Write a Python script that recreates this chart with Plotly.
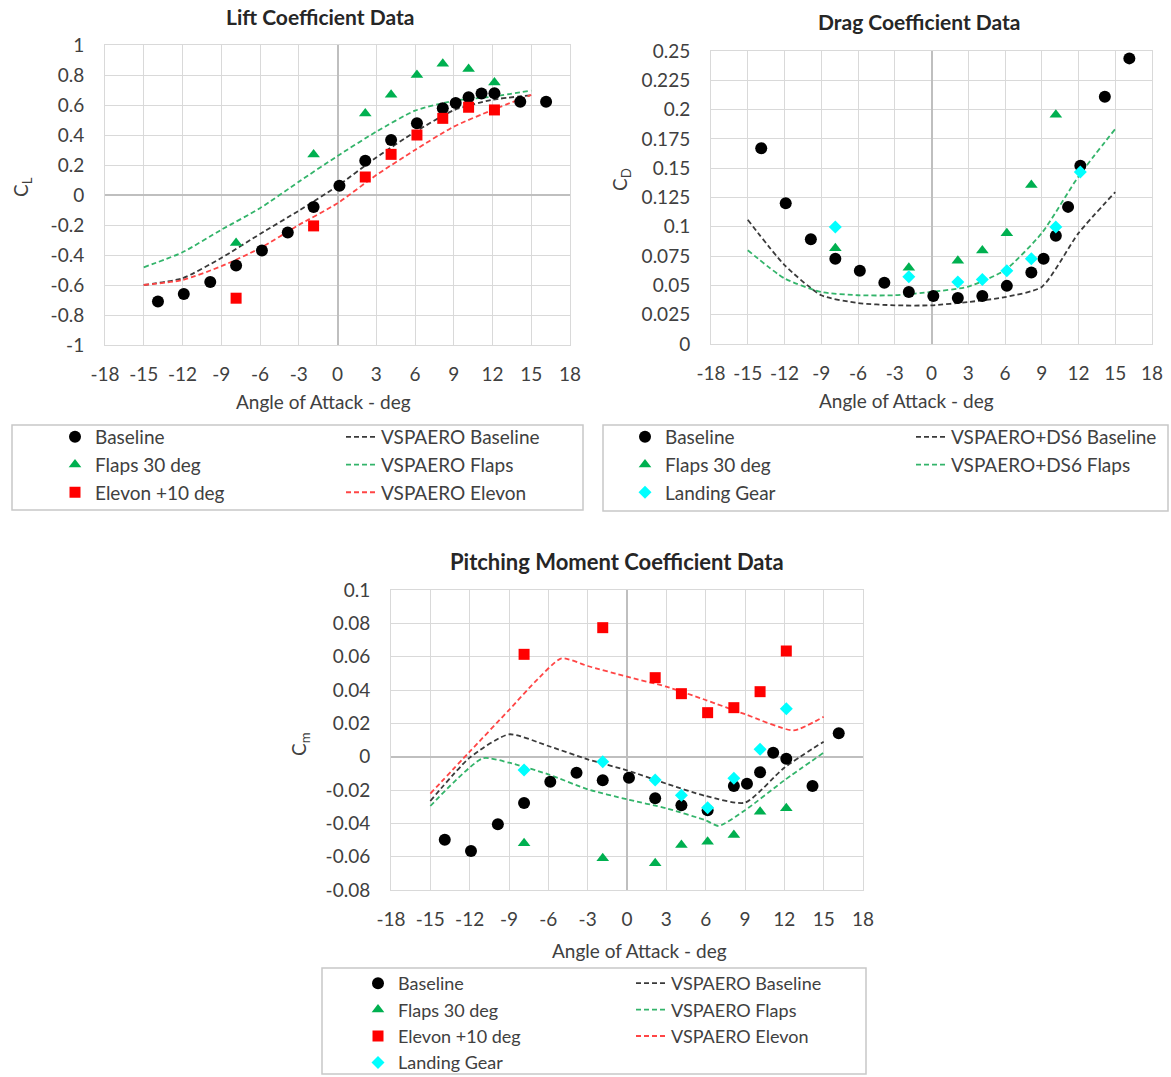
import plotly.graph_objects as go

# ---------------- data ----------------
alpha_base = [-13.9, -11.9, -9.85, -7.85, -5.85, -3.85, -1.85, 0.15, 2.15, 4.15,
              6.15, 8.15, 9.15, 10.15, 11.15, 12.15, 14.15, 16.15]
alpha_cfg = [-7.85, -1.85, 2.15, 4.15, 6.15, 8.15, 10.15, 12.15]
alpha_flaps_cd = [-7.85, -1.85, 2.15, 4.15, 6.15, 8.15, 10.15]

cl_baseline = [-0.71, -0.66, -0.58, -0.47, -0.37, -0.25, -0.08, 0.062, 0.228, 0.367,
               0.478, 0.578, 0.613, 0.651, 0.676, 0.679, 0.622, 0.622]
cl_flaps = [-0.32, 0.27, 0.543, 0.668, 0.80, 0.875, 0.84, 0.75]
cl_elevon = [-0.688, -0.206, 0.12, 0.271, 0.40, 0.511, 0.585, 0.567]

alpha_vsp = [-15, -12, -9, -6, -3, 0, 3, 6, 9, 12, 15]
cl_vsp_baseline = [-0.60, -0.555, -0.42, -0.26, -0.105, 0.06, 0.25, 0.42, 0.565, 0.635, 0.665]
cl_vsp_flaps = [-0.482, -0.382, -0.232, -0.088, 0.088, 0.26, 0.422, 0.562, 0.628, 0.656, 0.696]
cl_vsp_elevon = [-0.60, -0.567, -0.475, -0.355, -0.20, -0.055, 0.133, 0.30, 0.456, 0.567, 0.667]

cd_baseline = [0.167, 0.120, 0.0894, 0.0728, 0.0625, 0.0522, 0.0444, 0.041, 0.0393, 0.041,
               0.0496, 0.061, 0.0728, 0.0923, 0.117, 0.152, 0.211, 0.2437]
cd_flaps = [0.0817, 0.065, 0.071, 0.0797, 0.0946, 0.1356, 0.1955]
cd_gear = [0.0998, 0.0573, 0.053, 0.055, 0.0625, 0.0728, 0.0998, 0.1468]
cd_vsp_baseline = [0.106, 0.0674, 0.0416, 0.035, 0.033, 0.033, 0.0358, 0.040, 0.0487, 0.0946, 0.1296]
cd_vsp_flaps = [0.080, 0.056, 0.0444, 0.0416, 0.0416, 0.0444, 0.049, 0.063, 0.0946, 0.143, 0.1835]

cm_baseline = [-0.0498, -0.0566, -0.0406, -0.0278, -0.015, -0.0096, -0.0142, -0.0126, -0.025,
               -0.0292, -0.0322, -0.0176, -0.0162, -0.0094, 0.0024, -0.0012, -0.0176, 0.014]
cm_flaps = [-0.052, -0.061, -0.064, -0.053, -0.051, -0.047, -0.033, -0.031]
cm_elevon = [0.0614, 0.0774, 0.0474, 0.0378, 0.0264, 0.0294, 0.039, 0.0634]
cm_gear = [-0.008, -0.003, -0.014, -0.0232, -0.0306, -0.013, 0.0044, 0.0288]

alpha_cm_vsp_baseline = [-15, -12, -9, -6, -3, 0, 3, 6, 9, 12, 15]
cm_vsp_baseline = [-0.0266, -0.0006, 0.0134, 0.0064, -0.0016, -0.0082, -0.0162, -0.0236, -0.0276, -0.0066, 0.009]
alpha_cm_vsp_flaps = [-15, -11, -9, -6, -3, 0, 3, 6, 7, 9, 12, 15]
cm_vsp_flaps = [-0.0296, -0.001, -0.0036, -0.0106, -0.0196, -0.0256, -0.031, -0.0382, -0.0416, -0.0322, -0.0142, 0.0024]
alpha_cm_vsp_elevon = [-15, -12, -9, -7, -5, -3, 0, 3, 6, 9, 12.7, 15]
cm_vsp_elevon = [-0.0222, 0.003, 0.028, 0.045, 0.059, 0.0544, 0.048, 0.042, 0.034, 0.0255, 0.0158, 0.024]

x_tick_vals = [-18, -15, -12, -9, -6, -3, 0, 3, 6, 9, 12, 15, 18]
x_tick_text = ["-18", "-15", "-12", "-9", "-6", "-3", "0", "3", "6", "9", "12", "15", "18"]
cl_tick_vals = [-1, -0.8, -0.6, -0.4, -0.2, 0, 0.2, 0.4, 0.6, 0.8, 1]
cl_tick_text = ["-1", "-0.8", "-0.6", "-0.4", "-0.2", "0", "0.2", "0.4", "0.6", "0.8", "1"]
cd_tick_vals = [0, 0.025, 0.05, 0.075, 0.1, 0.125, 0.15, 0.175, 0.2, 0.225, 0.25]
cd_tick_text = ["0", "0.025", "0.05", "0.075", "0.1", "0.125", "0.15", "0.175", "0.2", "0.225", "0.25"]
cm_tick_vals = [-0.08, -0.06, -0.04, -0.02, 0, 0.02, 0.04, 0.06, 0.08, 0.1]
cm_tick_text = ["-0.08", "-0.06", "-0.04", "-0.02", "0", "0.02", "0.04", "0.06", "0.08", "0.1"]

# ---------------- styling ----------------
W, H = 1171, 1077
FONT = "Lato"
TXT = "#404040"
BLACK = "#000000"
GREEN = "#00B050"
RED = "#FF0000"
CYAN = "#00FFFF"
LBLACK = "#3a3a3a"
LGREEN = "#33B46A"
LRED = "#FF4545"
DASH = "5px,3px"


def px(x):
    return x / W


def py(y):
    return 1 - y / H


fig = go.Figure()

mk = {
    "base": dict(symbol="circle", color=BLACK, size=12),
    "flaps": dict(symbol="triangle-up", color=GREEN, size=11),
    "elevon": dict(symbol="square", color=RED, size=11),
    "gear": dict(symbol="diamond", color=CYAN, size=10),
}


def add_line(x, y, color, name, xa, ya, legend):
    fig.add_trace(go.Scatter(x=x, y=y, mode="lines", name=name,
                             line=dict(color=color, width=1.8, dash=DASH, shape="spline", smoothing=0.6),
                             xaxis=xa, yaxis=ya, legend=legend, hoverinfo="skip"))


def add_pts(x, y, key, name, xa, ya, legend):
    fig.add_trace(go.Scatter(x=x, y=y, mode="markers", name=name, marker=mk[key],
                             xaxis=xa, yaxis=ya, legend=legend))


# Lift
add_line(alpha_vsp, cl_vsp_baseline, LBLACK, "VSPAERO Baseline", "x", "y", "legend2")
add_line(alpha_vsp, cl_vsp_flaps, LGREEN, "VSPAERO Flaps", "x", "y", "legend2")
add_line(alpha_vsp, cl_vsp_elevon, LRED, "VSPAERO Elevon", "x", "y", "legend2")
add_pts(alpha_base, cl_baseline, "base", "Baseline", "x", "y", "legend")
add_pts(alpha_cfg, cl_flaps, "flaps", "Flaps 30 deg", "x", "y", "legend")
add_pts(alpha_cfg, cl_elevon, "elevon", "Elevon +10 deg", "x", "y", "legend")

# Drag
add_line(alpha_vsp, cd_vsp_baseline, LBLACK, "VSPAERO+DS6 Baseline", "x2", "y2", "legend4")
add_line(alpha_vsp, cd_vsp_flaps, LGREEN, "VSPAERO+DS6 Flaps", "x2", "y2", "legend4")
add_pts(alpha_base, cd_baseline, "base", "Baseline", "x2", "y2", "legend3")
add_pts(alpha_flaps_cd, cd_flaps, "flaps", "Flaps 30 deg", "x2", "y2", "legend3")
add_pts(alpha_cfg, cd_gear, "gear", "Landing Gear", "x2", "y2", "legend3")

# Pitching moment
add_line(alpha_cm_vsp_baseline, cm_vsp_baseline, LBLACK, "VSPAERO Baseline", "x3", "y3", "legend6")
add_line(alpha_cm_vsp_flaps, cm_vsp_flaps, LGREEN, "VSPAERO Flaps", "x3", "y3", "legend6")
add_line(alpha_cm_vsp_elevon, cm_vsp_elevon, LRED, "VSPAERO Elevon", "x3", "y3", "legend6")
add_pts(alpha_base, cm_baseline, "base", "Baseline", "x3", "y3", "legend5")
add_pts(alpha_cfg, cm_flaps, "flaps", "Flaps 30 deg", "x3", "y3", "legend5")
add_pts(alpha_cfg, cm_elevon, "elevon", "Elevon +10 deg", "x3", "y3", "legend5")
add_pts(alpha_cfg, cm_gear, "gear", "Landing Gear", "x3", "y3", "legend5")


def axis(**kw):
    d = dict(showgrid=True, gridcolor="#d9d9d9", gridwidth=1,
             zeroline=True, zerolinecolor="#bfbfbf", zerolinewidth=2,
             showline=True, linecolor="#d9d9d9", linewidth=1, mirror=True,
             ticks="outside", tickcolor="rgba(0,0,0,0)",
             tickfont=dict(family=FONT, size=19, color=TXT), fixedrange=True,
             tickmode="array", automargin=False)
    d.update(kw)
    return d


layout_axes = dict(
    xaxis=axis(domain=[px(105), px(570)], range=[-18, 18], anchor="y",
               tickvals=x_tick_vals, ticktext=x_tick_text, ticklen=12),
    yaxis=axis(domain=[py(345), py(45)], range=[-1, 1], anchor="x",
               tickvals=cl_tick_vals, ticktext=cl_tick_text, ticklen=16),
    xaxis2=axis(domain=[px(711), px(1152)], range=[-18, 18], anchor="y2",
                tickvals=x_tick_vals, ticktext=x_tick_text, ticklen=12),
    yaxis2=axis(domain=[py(344), py(51)], range=[0, 0.25], anchor="x2",
                tickvals=cd_tick_vals, ticktext=cd_tick_text, ticklen=16),
    xaxis3=axis(domain=[px(391), px(863)], range=[-18, 18], anchor="y3",
                tickvals=x_tick_vals, ticktext=x_tick_text, ticklen=12),
    yaxis3=axis(domain=[py(890), py(590)], range=[-0.08, 0.1], anchor="x3",
                tickvals=cm_tick_vals, ticktext=cm_tick_text, ticklen=16),
)


def legend(xp, yp, size=19):
    return dict(x=px(xp), y=py(yp), xanchor="left", yanchor="top",
                orientation="v", bgcolor="rgba(0,0,0,0)", borderwidth=0,
                font=dict(family=FONT, size=size, color=TXT),
                tracegroupgap=0, itemclick=False, itemdoubleclick=False)


def ann(text, x, y, size=19, bold=False, angle=0):
    t = f"<b>{text}</b>" if bold else text
    return dict(text=t, x=px(x), y=py(y), xref="paper", yref="paper",
                xanchor="center", yanchor="middle", showarrow=False, textangle=angle,
                font=dict(family=FONT, size=size, color="#262626" if bold else TXT))


annotations = [
    ann("Lift Coefficient Data", 320, 16, 21, True),
    ann("Drag Coefficient Data", 919, 22, 21, True),
    ann("Pitching Moment Coefficient Data", 617, 561, 22, True),
    ann("Angle of Attack - deg", 323, 401),
    ann("Angle of Attack - deg", 906, 400),
    ann("Angle of Attack - deg", 639, 950),
    ann("C<sub>L</sub>", 22, 187, 19, False, -90),
    ann("C<sub>D</sub>", 621, 180, 19, False, -90),
    ann("C<sub>m</sub>", 300, 744, 19, False, -90),
]

box = dict(type="rect", xref="paper", yref="paper", line=dict(color="#c8c8c8", width=1.5),
           fillcolor="rgba(0,0,0,0)", layer="below")
shapes = [
    dict(box, x0=px(12), x1=px(583), y0=py(510), y1=py(425)),
    dict(box, x0=px(603), x1=px(1168), y0=py(511), y1=py(425)),
    dict(box, x0=px(322), x1=px(866), y0=py(1074), y1=py(968)),
]

fig.update_layout(
    width=W, height=H, autosize=False,
    margin=dict(l=0, r=0, t=0, b=0, pad=0, autoexpand=False),
    paper_bgcolor="white", plot_bgcolor="white",
    font=dict(family=FONT, color=TXT),
    showlegend=True,
    legend=legend(55, 418),
    legend2=legend(341, 418),
    legend3=legend(625, 418),
    legend4=legend(911, 418),
    legend5=legend(358, 965, 18),
    legend6=legend(631, 965, 18),
    annotations=annotations,
    shapes=shapes,
    **layout_axes,
)

fig.write_html("out.html")
